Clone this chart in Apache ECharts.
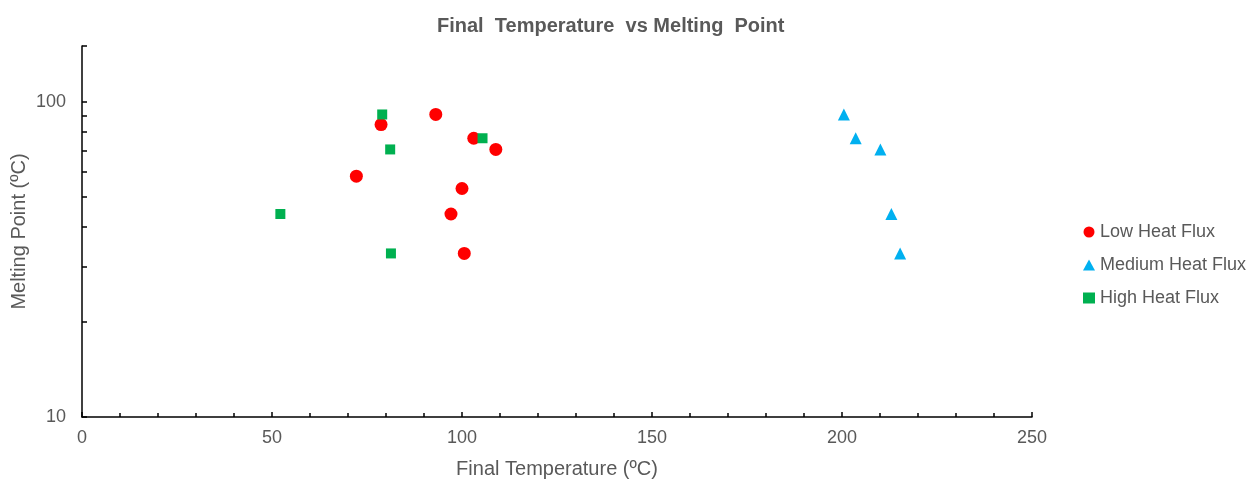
<!DOCTYPE html>
<html>
<head>
<meta charset="utf-8">
<script src="https://cdn.jsdelivr.net/npm/echarts@6/dist/echarts.min.js"></script>
<style>html,body{margin:0;padding:0;background:#fff;}#c{width:1256px;height:480px;}</style>
</head>
<body>
<div id="c"></div>
<script>
// Data
const lowX = [93.1, 78.7, 103.1, 108.9, 72.2, 100.0, 97.1, 100.6];
const lowY = [91, 84.5, 76.5, 70.5, 58, 53, 44, 33];
const medX = [200.5, 203.6, 210.1, 213.0, 215.3];
const medY = [91, 76.5, 70.5, 44, 33];
const highX = [79.0, 105.4, 81.1, 52.2, 81.3];
const highY = [91, 76.5, 70.5, 44, 33];
const seriesNames = ['Low Heat Flux', 'Medium Heat Flux', 'High Heat Flux'];
const yTickValues = [10, 20, 30, 40, 50, 60, 70, 80, 90, 100, 150];
const yLabelValues = [10, 100];

const pair = (xs, ys) => xs.map((x, i) => [x, ys[i]]);
const txt = '#595959';
const font = 'Liberation Sans, Arial, sans-serif';

const chart = echarts.init(document.getElementById('c'), null, {renderer: 'canvas'});
chart.setOption({
  backgroundColor: '#fff',
  animation: false,
  title: {
    text: 'Final  Temperature  vs Melting  Point',
    left: 432, top: 11,
    textStyle: {fontFamily: font, fontSize: 20, fontWeight: 'bold', color: txt}
  },
  grid: {left: 82, right: 224, top: 46, bottom: 63, containLabel: false, outerBoundsMode: 'none'},
  legend: {
    orient: 'vertical', left: 1078, top: 218,
    itemWidth: 12, itemHeight: 11, itemGap: 15,
    textStyle: {fontFamily: font, fontSize: 18, color: txt},
    data: seriesNames
  },
  xAxis: {
    type: 'value', min: 0, max: 250, interval: 50,
    name: 'Final Temperature (ºC)', nameLocation: 'middle', nameGap: 42, nameMoveOverlap: false,
    nameTextStyle: {fontFamily: font, fontSize: 20, color: txt},
    axisLine: {show: true, lineStyle: {color: '#000', width: 1.5}},
    axisTick: {show: true, inside: true, length: 5, lineStyle: {color: '#000', width: 1.5}},
    minorTick: {show: true, splitNumber: 5, length: 4, lineStyle: {color: '#000', width: 1.5}},
    axisLabel: {fontFamily: font, fontSize: 18, color: txt, margin: 12},
    splitLine: {show: false}
  },
  yAxis: {
    type: 'log', logBase: 10, min: 10, max: 150,
    name: 'Melting Point (ºC)', nameLocation: 'middle', nameGap: 53, nameMoveOverlap: false,
    nameTextStyle: {fontFamily: font, fontSize: 20, color: txt},
    axisLine: {show: true, lineStyle: {color: '#000', width: 1.5}},
    axisTick: {show: true, inside: true, length: 5, customValues: yTickValues, lineStyle: {color: '#000', width: 1.5}},
    axisLabel: {fontFamily: font, fontSize: 18, color: txt, margin: 16, customValues: yLabelValues},
    splitLine: {show: false}
  },
  series: [
    {name: seriesNames[0], type: 'scatter', symbol: 'circle', symbolSize: 13,
     itemStyle: {color: '#FF0000', opacity: 1}, data: pair(lowX, lowY)},
    {name: seriesNames[1], type: 'scatter', symbol: 'triangle', symbolSize: 12,
     itemStyle: {color: '#00B0F0', opacity: 1}, data: pair(medX, medY)},
    {name: seriesNames[2], type: 'scatter', symbol: 'rect', symbolSize: 10,
     itemStyle: {color: '#00B050', opacity: 1}, data: pair(highX, highY)}
  ]
});
</script>
</body>
</html>
